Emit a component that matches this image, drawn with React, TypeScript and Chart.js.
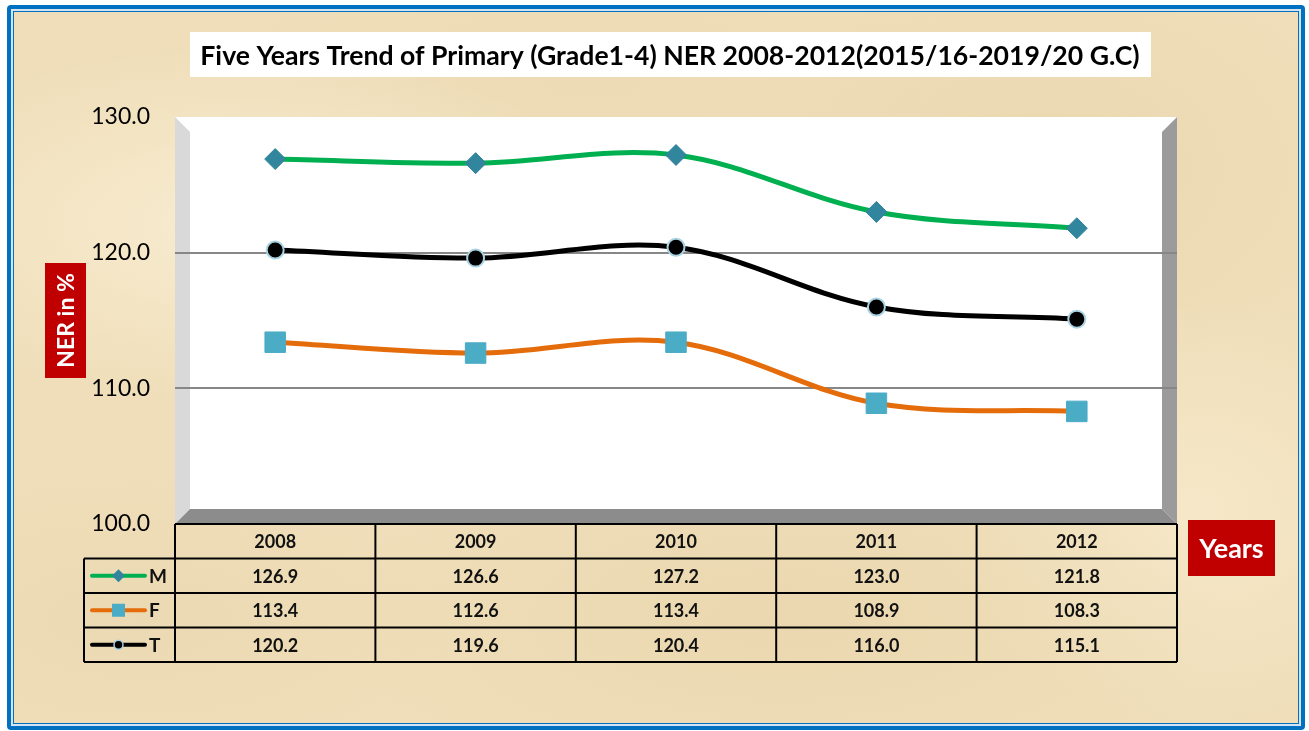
import React, { useEffect, useRef } from 'react';
import { Chart, registerables } from 'chart.js';

Chart.register(...registerables);

const chartTitle = 'Five Years Trend of Primary (Grade1-4) NER 2008-2012(2015/16-2019/20 G.C)';
const yAxisLabel = 'NER in %';
const xAxisLabel = 'Years';
const years = ['2008', '2009', '2010', '2011', '2012'];
const maleNER = [126.9, 126.6, 127.2, 123.0, 121.8];
const femaleNER = [113.4, 112.6, 113.4, 108.9, 108.3];
const totalNER = [120.2, 119.6, 120.4, 116.0, 115.1];
const seriesNames = ['M', 'F', 'T'];
const yMin = 100;
const yMax = 130;
const yStep = 10;

const FONT = 'Lato, "Open Sans", "DejaVu Sans", sans-serif';

type Series = {
  name: string;
  data: number[];
  line: string;
  marker: string;
  markerBorder: string;
  style: 'rectRot' | 'rect' | 'circle';
};

const series: Series[] = [
  { name: seriesNames[0], data: maleNER, line: '#00B050', marker: '#31859C', markerBorder: '#31859C', style: 'rectRot' },
  { name: seriesNames[1], data: femaleNER, line: '#E46C0A', marker: '#4BACC6', markerBorder: '#4BACC6', style: 'rect' },
  { name: seriesNames[2], data: totalNER, line: '#000000', marker: '#000000', markerBorder: '#A9D2E2', style: 'circle' },
];

function poly(ctx: CanvasRenderingContext2D, pts: number[][], fill: string) {
  ctx.beginPath();
  ctx.moveTo(pts[0][0], pts[0][1]);
  for (let i = 1; i < pts.length; i++) ctx.lineTo(pts[i][0], pts[i][1]);
  ctx.closePath();
  ctx.fillStyle = fill;
  ctx.fill();
}

function seg(ctx: CanvasRenderingContext2D, x1: number, y1: number, x2: number, y2: number) {
  ctx.beginPath();
  ctx.moveTo(x1, y1);
  ctx.lineTo(x2, y2);
  ctx.stroke();
}

function drawMarker(ctx: CanvasRenderingContext2D, s: Series, x: number, y: number) {
  ctx.save();
  if (s.style === 'rectRot') {
    const r = 6.5;
    poly(ctx, [[x, y - r], [x + r, y], [x, y + r], [x - r, y]], s.marker);
  } else if (s.style === 'rect') {
    const h = 6.5;
    ctx.fillStyle = s.marker;
    ctx.fillRect(x - h, y - h, 2 * h, 2 * h);
  } else {
    ctx.beginPath();
    ctx.arc(x, y, 4.5, 0, Math.PI * 2);
    ctx.fillStyle = s.marker;
    ctx.fill();
    ctx.lineWidth = 1.5;
    ctx.strokeStyle = s.markerBorder;
    ctx.stroke();
  }
  ctx.restore();
}

const decorPlugin = {
  id: 'decor',
  beforeDraw(chart: any) {
    const { ctx } = chart;
    const { left, right, top, bottom } = chart.chartArea;
    const d = 15;
    ctx.save();
    ctx.fillStyle = '#FFFFFF';
    ctx.fillRect(left, top, right - left, bottom - top);
    poly(ctx, [[left, top], [left + d, top + d], [left + d, bottom - d], [left, bottom]], '#D9D9D9');
    poly(ctx, [[right - d, top + d], [right, top], [right, bottom], [right - d, bottom - d]], '#9B9B9B');
    poly(ctx, [[left, bottom], [left + d, bottom - d], [right - d, bottom - d], [right, bottom]], '#8C8C8C');
    ctx.restore();
  },
  afterDraw(chart: any) {
    const { ctx } = chart;
    const { left, right, bottom } = chart.chartArea;
    const xs = chart.scales.x;
    ctx.save();

    // Title box
    ctx.fillStyle = '#FFFFFF';
    ctx.fillRect(190, 32, 961, 45);
    ctx.font = `bold 25px ${FONT}`;
    const w = ctx.measureText(chartTitle).width;
    const size = Math.min(30, (25 * 940) / w);
    ctx.font = `bold ${size}px ${FONT}`;
    ctx.fillStyle = '#000000';
    ctx.textAlign = 'center';
    ctx.textBaseline = 'middle';
    ctx.fillText(chartTitle, 670, 56);

    // Y axis label box
    ctx.fillStyle = '#C00000';
    ctx.fillRect(45, 263, 41, 115);
    ctx.save();
    ctx.translate(66, 320.5);
    ctx.rotate(-Math.PI / 2);
    ctx.fillStyle = '#FFFFFF';
    ctx.font = `bold 23px ${FONT}`;
    ctx.fillText(yAxisLabel, 0, 1);
    ctx.restore();

    // X axis label box
    ctx.fillStyle = '#C00000';
    ctx.fillRect(1188, 520, 87, 56);
    ctx.fillStyle = '#FFFFFF';
    ctx.font = `bold 27px ${FONT}`;
    ctx.fillText(xAxisLabel, 1231.5, 549);

    // Data table
    const n = years.length;
    const colW = (right - left) / n;
    const rowH = 34.5;
    const legendLeft = 84;
    const y0 = bottom;
    ctx.strokeStyle = '#000000';
    ctx.lineWidth = 2;
    seg(ctx, left, y0, right, y0);
    for (let r = 1; r <= 4; r++) seg(ctx, legendLeft, y0 + r * rowH, right, y0 + r * rowH);
    seg(ctx, legendLeft, y0 + rowH, legendLeft, y0 + 4 * rowH);
    for (let c = 0; c <= n; c++) seg(ctx, left + c * colW, y0, left + c * colW, y0 + 4 * rowH);

    ctx.fillStyle = '#111111';
    ctx.font = `bold 18px ${FONT}`;
    ctx.textAlign = 'center';
    ctx.textBaseline = 'middle';
    years.forEach((yr, i) => {
      ctx.fillText(yr, xs.getPixelForValue(i), y0 + rowH / 2 + 1);
    });
    series.forEach((s, r) => {
      const cy = y0 + (r + 1.5) * rowH + 1;
      s.data.forEach((v, i) => {
        ctx.fillStyle = '#111111';
        ctx.font = `bold 18px ${FONT}`;
        ctx.textAlign = 'center';
        ctx.fillText(v.toFixed(1), xs.getPixelForValue(i), cy);
      });
      // legend key
      ctx.save();
      ctx.strokeStyle = s.line;
      ctx.lineWidth = 4;
      ctx.lineCap = 'round';
      seg(ctx, 92, cy - 1, 145, cy - 1);
      ctx.restore();
      drawMarker(ctx, s, 118.5, cy - 1);
      ctx.fillStyle = '#111111';
      ctx.font = `bold 19px ${FONT}`;
      ctx.textAlign = 'left';
      ctx.fillText(s.name, 149, cy);
    });
    ctx.restore();
  },
};

export default function App() {
  const ref = useRef<HTMLCanvasElement | null>(null);

  useEffect(() => {
    if (!ref.current) return;
    const chart = new Chart(ref.current, {
      type: 'line',
      data: {
        labels: years,
        datasets: series.map((s) => ({
          label: s.name,
          data: s.data,
          borderColor: s.line,
          backgroundColor: s.marker,
          borderWidth: 5,
          tension: 0.35,
          pointStyle: s.style,
          pointRadius: s.style === 'rectRot' ? 10.5 : s.style === 'rect' ? 14.5 : 8.5,
          pointBackgroundColor: s.marker,
          pointBorderColor: s.markerBorder,
          pointBorderWidth: s.style === 'circle' ? 2 : 1,
          fill: false,
        })),
      },
      options: {
        responsive: false,
        animation: false,
        devicePixelRatio: 1,
        layout: { padding: { left: 0, top: 117, right: 132, bottom: 207 } },
        plugins: {
          legend: { display: false },
          tooltip: { enabled: false },
          title: { display: false },
        },
        scales: {
          x: { type: 'category', display: false, offset: true },
          y: {
            min: yMin,
            max: yMax,
            ticks: {
              stepSize: yStep,
              padding: 25,
              color: '#000000',
              font: { size: 23, family: FONT },
              callback: (v: any) => Number(v).toFixed(1),
            },
            grid: {
              drawTicks: false,
              lineWidth: 2,
              color: (c: any) =>
                c.tick && c.tick.value > yMin && c.tick.value < yMax ? '#878787' : 'rgba(0,0,0,0)',
            },
            border: { display: false },
            afterFit: (s: any) => {
              s.width = 175;
            },
          },
        },
      },
      plugins: [decorPlugin],
    });
    return () => chart.destroy();
  }, []);

  const parchment = [
    'radial-gradient(ellipse 30% 25% at 18% 30%, rgba(252,242,218,0.7), rgba(252,242,218,0) 100%)',
    'radial-gradient(ellipse 25% 30% at 80% 22%, rgba(228,208,166,0.45), rgba(228,208,166,0) 100%)',
    'radial-gradient(ellipse 35% 25% at 60% 85%, rgba(228,206,162,0.4), rgba(228,206,162,0) 100%)',
    'radial-gradient(ellipse 20% 30% at 92% 70%, rgba(250,238,210,0.6), rgba(250,238,210,0) 100%)',
    'radial-gradient(ellipse 25% 20% at 10% 85%, rgba(230,210,170,0.4), rgba(230,210,170,0) 100%)',
    'radial-gradient(ellipse 30% 20% at 45% 10%, rgba(232,214,174,0.4), rgba(232,214,174,0) 100%)',
  ].join(', ');

  return (
    <div style={{ position: 'absolute', left: 0, top: 0, width: 1309, height: 731, overflow: 'hidden', background: '#FFFFFF' }}>
      <div
        style={{
          position: 'absolute',
          left: 7,
          top: 5,
          width: 1298,
          height: 725,
          boxSizing: 'border-box',
          border: '4px solid #0070C0',
          borderRadius: 4,
          backgroundColor: '#EFDEB9',
          backgroundImage: parchment,
          boxShadow: 'inset 0 0 0 2px #D4E3EF, inset 0 0 0 3px #0070C0',
        }}
      />
      <canvas
        ref={ref}
        width={1309}
        height={731}
        style={{ position: 'absolute', left: 0, top: 0, width: 1309, height: 731 }}
      />
    </div>
  );
}
